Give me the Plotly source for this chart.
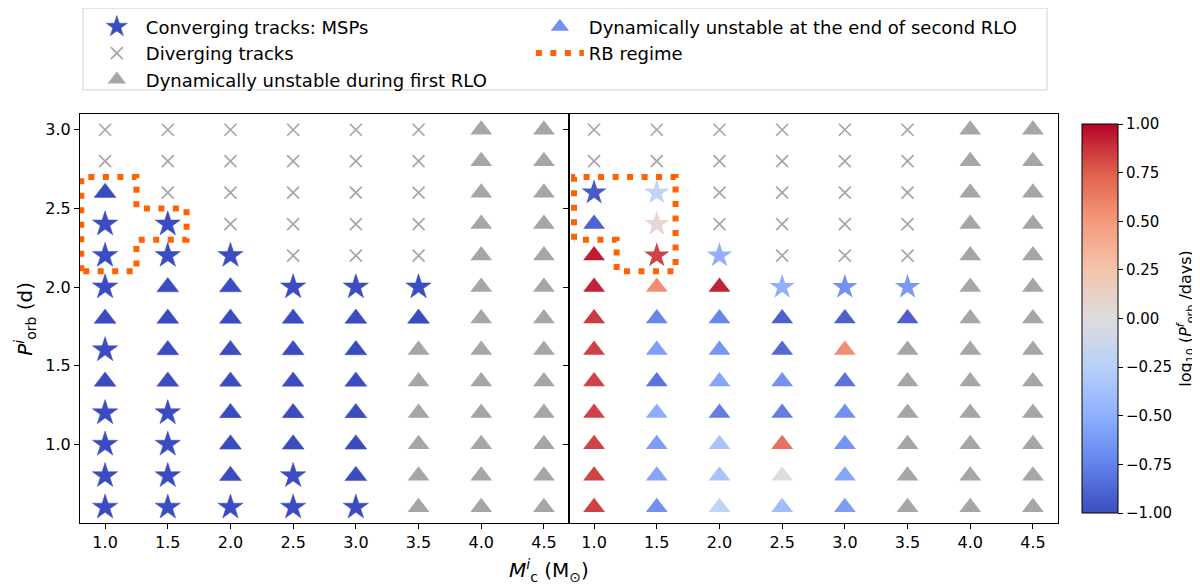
import plotly.graph_objects as go

# Griglia dei modelli: massa iniziale della compagna e periodo orbitale iniziale
masse = [1.0, 1.5, 2.0, 2.5, 3.0, 3.5, 4.0, 4.5]
periodi = [3.0, 2.8, 2.6, 2.4, 2.2, 2.0, 1.8, 1.6, 1.4, 1.2, 1.0, 0.8, 0.6]

# Esiti: S = converging (MSP), X = diverging, G = unstable first RLO, B = unstable end of second RLO
esiti_sx = [
    "XXXXXXGG",
    "XXXXXXGG",
    "BXXXXXGG",
    "SSXXXXGG",
    "SSSXXXGG",
    "SBBSSSGG",
    "BBBBBBGG",
    "SBBBBGGG",
    "BBBBBGGG",
    "SSBBBGGG",
    "SSBBBGGG",
    "SSBSBGGG",
    "SSSSSGGG",
]
esiti_dx = [
    "XXXXXXGG",
    "XXXXXXGG",
    "SSXXXXGG",
    "BSXXXXGG",
    "BSSXXXGG",
    "BBBSSSGG",
    "BBBBBBGG",
    "BBBBBGGG",
    "BBBBBGGG",
    "BBBBBGGG",
    "BBBBBGGG",
    "BBBBBGGG",
    "BBBBBGGG",
]

# log10(P_orb^f / days) per il pannello destro (solo per S e B, in ordine di colonna)
logpf_dx = [
    [],
    [],
    [-0.97, -0.22],
    [-0.93, 0.08],
    [0.97, 0.86, -0.52],
    [0.95, 0.57, 0.95, -0.52, -0.70, -0.65],
    [0.88, -0.76, -0.75, -0.95, -0.95, -0.95],
    [0.86, -0.62, -0.68, -0.90, 0.57],
    [0.86, -0.85, -0.58, -0.70, -0.85],
    [0.86, -0.53, -0.80, -0.80, -0.70],
    [0.86, -0.63, -0.37, 0.70, -0.68],
    [0.86, -0.58, -0.36, 0.03, -0.58],
    [0.86, -0.70, -0.22, -0.42, -0.63],
]

# Regione RB (contorno)
rb_sx_x = [0.81, 0.81, 1.25, 1.25, 1.65, 1.65, 1.25, 1.25, 0.81]
rb_sx_y = [2.1, 2.7, 2.7, 2.5, 2.5, 2.3, 2.3, 2.1, 2.1]
rb_dx_x = [0.84, 0.84, 1.65, 1.65, 1.18, 1.18, 0.84]
rb_dx_y = [2.3, 2.7, 2.7, 2.1, 2.1, 2.3, 2.3]

FONT = "DejaVu Sans"
BLU = "#3b4cc0"
BLU_CHIARO = "#6f92f3"
GRIGIO = "rgba(128,128,128,0.7)"
ARANCIO = "#ff6200"

coolwarm = [
    [0.0, "#3b4cc0"], [0.125, "#6282ea"], [0.25, "#8db0fe"], [0.375, "#b8d0f9"],
    [0.5, "#dddddd"], [0.625, "#f5c4ad"], [0.75, "#f49a7b"], [0.875, "#de604d"],
    [1.0, "#b40426"],
]


def punti(esiti, codice, valori=None):
    xs, ys, cs = [], [], []
    for r, riga in enumerate(esiti):
        k = 0
        for c, e in enumerate(riga):
            if e in "SB":
                v = valori[r][k] if valori else None
                k += 1
            else:
                v = None
            if e == codice:
                xs.append(masse[c])
                ys.append(periodi[r])
                cs.append(v)
    return xs, ys, cs


stile = {
    "S": dict(symbol="star", size=19),
    "B": dict(symbol="triangle-up", size=19),
    "G": dict(symbol="triangle-up", size=19),
    "X": dict(symbol="x-thin", size=12),
}

fig = go.Figure()

# Pannello sinistro
xs, ys, _ = punti(esiti_sx, "S")
fig.add_trace(go.Scatter(x=xs, y=ys, mode="markers", name="Converging tracks: MSPs", legendrank=1,
                         marker=dict(color=BLU, line=dict(width=0.5, color=BLU), **stile["S"])))
xs, ys, _ = punti(esiti_sx, "B")
fig.add_trace(go.Scatter(x=xs, y=ys, mode="markers", showlegend=False,
                         marker=dict(color=BLU, line=dict(width=0.5, color=BLU), **stile["B"])))
xs, ys, _ = punti(esiti_sx, "X")
fig.add_trace(go.Scatter(x=xs, y=ys, mode="markers", name="Diverging tracks", legendrank=2,
                         marker=dict(line=dict(width=1.7, color=GRIGIO), **stile["X"])))
xs, ys, _ = punti(esiti_sx, "G")
fig.add_trace(go.Scatter(x=xs, y=ys, mode="markers", name="Dynamically unstable during first RLO", legendrank=3,
                         marker=dict(color=GRIGIO, line=dict(width=0), **stile["G"])))
fig.add_trace(go.Scatter(x=rb_sx_x, y=rb_sx_y, mode="lines", name="RB regime", legend="legend2", legendrank=2,
                         line=dict(color=ARANCIO, width=6, dash="6px,8.5px")))

# voce di legenda per i sistemi instabili alla fine del secondo RLO
fig.add_trace(go.Scatter(x=[None], y=[None], mode="markers", name="Dynamically unstable at the end of second RLO",
                         legend="legend2", legendrank=1, marker=dict(color=BLU_CHIARO, **stile["B"])))

# Pannello destro
xs, ys, _ = punti(esiti_dx, "X")
fig.add_trace(go.Scatter(x=xs, y=ys, xaxis="x2", yaxis="y2", mode="markers", showlegend=False,
                         marker=dict(line=dict(width=1.7, color=GRIGIO), **stile["X"])))
xs, ys, _ = punti(esiti_dx, "G")
fig.add_trace(go.Scatter(x=xs, y=ys, xaxis="x2", yaxis="y2", mode="markers", showlegend=False,
                         marker=dict(color=GRIGIO, line=dict(width=0), **stile["G"])))
for codice in ["B", "S"]:
    xs, ys, cs = punti(esiti_dx, codice, logpf_dx)
    fig.add_trace(go.Scatter(x=xs, y=ys, xaxis="x2", yaxis="y2", mode="markers", showlegend=False,
                             marker=dict(color=cs, coloraxis="coloraxis", opacity=0.95,
                                         line=dict(width=0), **stile[codice])))
fig.add_trace(go.Scatter(x=rb_dx_x, y=rb_dx_y, xaxis="x2", yaxis="y2", mode="lines", showlegend=False,
                         line=dict(color=ARANCIO, width=6, dash="6px,8.5px")))

assi = dict(showline=True, mirror=True, linecolor="black", linewidth=1.2, ticks="outside",
            ticklen=5, tickwidth=1.2, tickcolor="black", showgrid=False, zeroline=False,
            tickfont=dict(size=16, color="black"))

legenda = dict(orientation="v", yanchor="top", xanchor="left", itemwidth=48,
               font=dict(size=18), bgcolor="rgba(0,0,0,0)", borderwidth=0)

fig.update_layout(
    width=1200, height=588,
    margin=dict(l=72, r=150, t=106, b=73, autoexpand=False),
    plot_bgcolor="white", paper_bgcolor="white",
    font=dict(family=FONT, color="black"),
    xaxis=dict(domain=[0, 0.5], range=[0.8, 4.7], tickvals=masse, tickformat=".1f", **assi),
    xaxis2=dict(domain=[0.5, 1], range=[0.8, 4.7], tickvals=masse, tickformat=".1f", anchor="y2", **assi),
    yaxis=dict(range=[0.5, 3.1], tickvals=[1.0, 1.5, 2.0, 2.5, 3.0], tickformat=".1f", **assi),
    yaxis2=dict(range=[0.5, 3.1], tickvals=[1.0, 1.5, 2.0, 2.5, 3.0], showticklabels=False,
                anchor="x2", matches="y", **assi),
    coloraxis=dict(
        cmin=-1, cmax=1, colorscale=coolwarm,
        colorbar=dict(
            x=1.0143, xanchor="left", y=0.5, len=1, thickness=36,
            outlinewidth=1, outlinecolor="black",
            ticks="outside", ticklen=5, tickcolor="black",
            tickvals=[-1, -0.75, -0.5, -0.25, 0, 0.25, 0.5, 0.75, 1], tickformat=".2f",
            tickfont=dict(size=15),
            title=dict(text="log<sub>10</sub> (<i>P</i><sup><i>f</i></sup><sub>orb</sub> /days)",
                       side="right", font=dict(size=16)),
        ),
    ),
    legend=dict(x=0.008, y=1.258, **legenda),
    legend2=dict(x=0.461, y=1.258, **legenda),
    shapes=[
        # cornice comune delle due legende
        dict(type="rect", xref="paper", yref="paper", x0=0.003, x1=0.9888, y0=1.0587, y1=1.259,
             line=dict(color="#d0d0d0", width=1), layer="below"),
    ],
    annotations=[
        dict(text="<i>M</i><sup><i>i</i></sup><sub>c</sub> (M<sub>⊙</sub>)", x=0.4796, y=-0.115,
             xanchor="center", yanchor="middle",
             xref="paper", yref="paper", showarrow=False, font=dict(size=20)),
        dict(text="<i>P</i><sup><i>i</i></sup><sub>orb</sub> (d)", x=-0.056, y=0.5, textangle=-90,
             xanchor="center", yanchor="middle",
             xref="paper", yref="paper", showarrow=False, font=dict(size=20)),
    ],
)

fig.write_html("out.html")
